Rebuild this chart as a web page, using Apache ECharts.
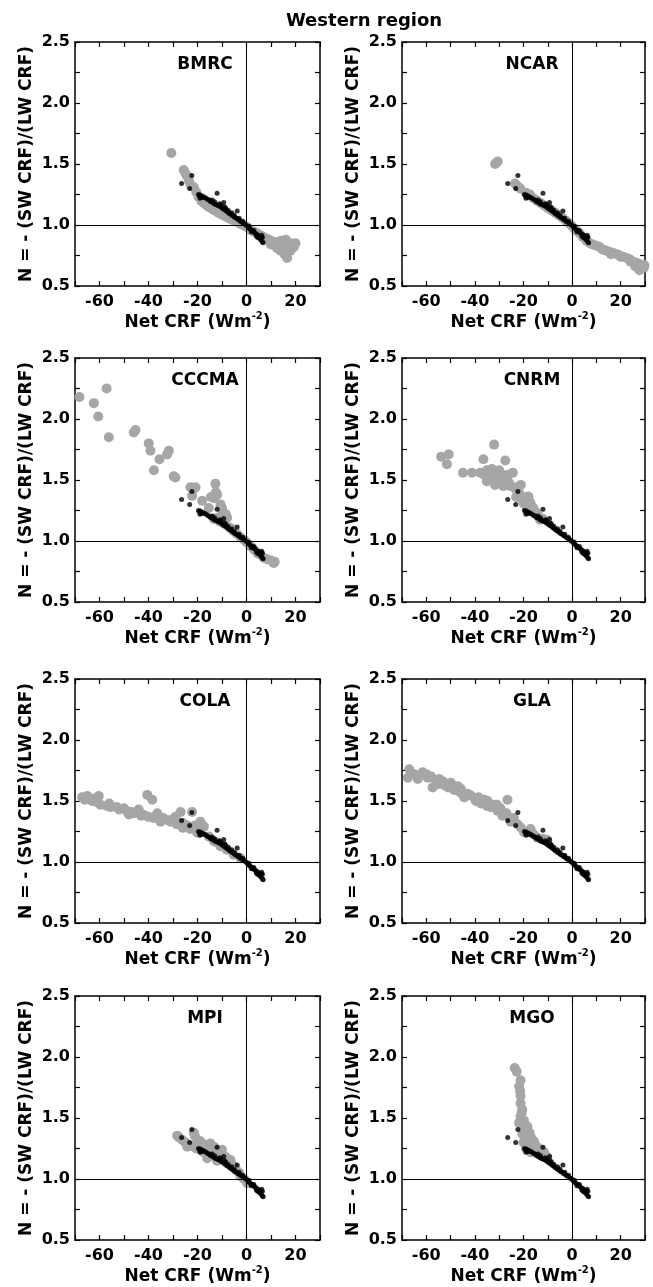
<!DOCTYPE html>
<html><head><meta charset="utf-8">
<script src="https://cdn.jsdelivr.net/npm/echarts@6/dist/echarts.min.js"></script>
<style>html,body{margin:0;padding:0;background:#fff}#c{width:653px;height:1287px}</style>
</head><body><div id="c"></div>
<script>
const chartTitle = 'Western region';
const modelNames = ['BMRC','NCAR','CCCMA','CNRM','COLA','GLA','MPI','MGO'];
const xTickLabels = [-60,-40,-20,0,20];
const yTickLabels = [0.5,1.0,1.5,2.0,2.5];
const xName = 'Net CRF (Wm';
const xNameSup = '-2';
const yName = 'N = - (SW CRF)/(LW CRF)';

// observations (black dots, same in every panel)
const obs = [
[-26.5,1.34],[-22.3,1.405],[-23.2,1.30],[-12.0,1.26],[-9.3,1.185],[-3.8,1.115],
[-19.6,1.25],[-19.2,1.24],[-18.8,1.245],[-18.5,1.23],[-18.2,1.225],[-19.0,1.22],[-17.8,1.235],
[-15.8,1.21],[-15.2,1.205],[-14.8,1.195],[-14.3,1.19],[-13.8,1.185],[-13.2,1.175],[-12.7,1.17],
[-12.2,1.165],[-11.6,1.16],[-11.0,1.155],[-10.6,1.15],[-10.0,1.14],[-9.5,1.135],[-9.0,1.125],
[-8.5,1.12],[-8.0,1.11],[-7.5,1.105],[-7.0,1.095],[-6.5,1.09],[-6.0,1.08],[-5.5,1.075],[-5.0,1.065],
[-4.5,1.06],[-4.0,1.055],[-3.5,1.045],[-3.0,1.04],[-2.5,1.03],[-2.0,1.025],[-1.5,1.02],[-1.0,1.01],
[-0.5,1.005],[0.0,0.995],[0.5,0.985],[1.0,0.975],[1.5,0.965],[2.0,0.96],[2.5,0.95],[3.0,0.94],
[3.5,0.935],[4.0,0.925],[4.5,0.92],[5.0,0.91],[5.5,0.905],[6.0,0.9],[6.5,0.9],[5.0,0.895],
[5.5,0.885],[6.0,0.875],[6.5,0.86],[6.8,0.855],[4.5,0.9],[6.2,0.915],[-16.5,1.22],[-11.0,1.175],
[-7.5,1.12],[-13.0,1.19],[-8.5,1.14],[-14.0,1.205],[-10.5,1.165],[-6.0,1.10],[-3.0,1.055],
[-17.0,1.225],[-9.0,1.15],[-5.0,1.08],[-1.5,1.03],[1.0,0.99],[3.0,0.955],[2.0,0.945],[4.0,0.91]
];

const bmrc = [
[-30.7,1.59],[-25.6,1.45],[-24.8,1.42],[-24.2,1.40],[-23.5,1.36],[-22.8,1.33],[-21.5,1.31],[-20.5,1.27],
[-19.5,1.23],[-18.5,1.20],[-17.5,1.18],[-16.5,1.165],[-15.5,1.15],[-14.5,1.14],[-13.5,1.125],[-12.5,1.115],
[-11.5,1.10],[-10.5,1.09],[-9.5,1.08],[-8.5,1.07],[-7.5,1.06],[-6.5,1.05],[-5.5,1.04],[-4.5,1.03],
[-3.5,1.02],[-2.5,1.01],[-1.5,1.0],[-0.5,0.99],[0.5,0.98],[1.5,0.96],[2.5,0.95],[3.5,0.94],[4.5,0.93],
[5.5,0.915],[6.5,0.905],[7.5,0.895],[8.5,0.885],[9.5,0.875],[10.5,0.865],[11.5,0.86],[12.5,0.85],
[12.5,0.81],[13.9,0.79],[14.0,0.83],[15.0,0.85],[16.0,0.88],[16.6,0.73],[17.0,0.82],[18.0,0.79],
[18.0,0.85],[19.3,0.82],[20.0,0.85],[15.5,0.76],[14.0,0.87],[10.0,0.84]
];
const ncar = [
[-31.7,1.50],[-31.2,1.51],[-30.6,1.52],[-23.5,1.34],[-22.5,1.32],[-21.4,1.30],[-19.0,1.265],[-17.3,1.25],
[-16.0,1.22],[-14.5,1.20],[-13.0,1.18],[-11.5,1.16],[-10.0,1.14],[-8.5,1.12],[-7.0,1.10],[-5.5,1.08],
[-4.0,1.06],[-2.5,1.035],[-1.0,1.01],[0.0,0.99],[1.0,0.97],[2.0,0.95],[3.2,0.93],[4.5,0.90],[6.0,0.87],
[7.3,0.85],[8.5,0.84],[10.0,0.83],[11.3,0.82],[12.5,0.80],[14.0,0.79],[15.4,0.78],[17.0,0.77],[18.5,0.76],
[19.5,0.75],[21.0,0.74],[22.5,0.73],[23.6,0.72],[25.0,0.70],[26.5,0.69],[27.7,0.68],[28.5,0.66],
[29.5,0.65],[27.7,0.63],[29.8,0.67],[26.0,0.66],[24.0,0.70],[20.0,0.74],[16.0,0.76]
];
const cccma = [
[-68.2,2.18],[-62.3,2.13],[-57.1,2.25],[-60.5,2.02],[-56.2,1.85],[-46.0,1.89],[-45.3,1.91],[-39.9,1.80],
[-39.2,1.74],[-35.5,1.67],[-32.4,1.71],[-31.7,1.74],[-37.8,1.58],[-29.7,1.53],[-29.0,1.52],[-22.9,1.44],
[-20.8,1.44],[-21.2,1.43],[-22.2,1.37],[-18.1,1.33],[-12.7,1.47],[-12.5,1.40],[-12.0,1.38],[-13.3,1.35],
[-14.5,1.36],[-15.4,1.27],[-10.6,1.30],[-10.0,1.27],[-9.9,1.245],[-8.5,1.22],[-7.9,1.19],[-12.0,1.19],
[-13.3,1.18],[-11.0,1.16],[-9.0,1.14],[-7.0,1.11],[-6.0,1.10],[-5.2,1.08],[-4.0,1.06],[-2.4,1.03],
[-1.0,1.01],[0.0,0.99],[1.5,0.96],[3.0,0.93],[4.5,0.90],[5.5,0.89],[7.1,0.86],[8.5,0.85],[10.0,0.84],
[11.1,0.82],[11.5,0.83]
];
const cnrm = [
[-53.9,1.69],[-50.8,1.71],[-51.5,1.63],[-44.9,1.56],[-41.2,1.56],[-32.1,1.79],[-36.5,1.67],[-27.5,1.66],
[-37.8,1.56],[-35.1,1.58],[-33.0,1.59],[-31.0,1.56],[-33.0,1.515],[-35.1,1.49],[-29.6,1.49],[-26.9,1.515],
[-24.4,1.56],[-31.7,1.46],[-28.3,1.45],[-25.5,1.45],[-21.1,1.46],[-21.4,1.38],[-18.0,1.365],[-17.3,1.32],
[-20.0,1.31],[-16.0,1.27],[-14.6,1.23],[-18.7,1.28],[-13.2,1.175],[-34.0,1.55],[-32.0,1.53],[-30.0,1.52],
[-28.0,1.50],[-26.0,1.48],[-24.0,1.44],[-23.0,1.42],[-22.0,1.40],[-19.0,1.35],[-17.0,1.30],[-15.5,1.25],
[-30.0,1.58],[-34.5,1.52],[-36.0,1.54],[-27.0,1.54],[-23.0,1.36],[-20.5,1.34],[-12.0,1.18],[-14.0,1.21]
];
const cola = [
[-67.1,1.53],[-65.0,1.54],[-66.0,1.51],[-63.0,1.50],[-60.3,1.54],[-59.6,1.47],[-61.0,1.49],[-57.0,1.46],
[-55.5,1.45],[-53.0,1.45],[-52.0,1.43],[-50.1,1.44],[-49.0,1.42],[-47.0,1.41],[-46.0,1.40],[-44.0,1.40],
[-43.0,1.38],[-40.5,1.55],[-38.5,1.51],[-41.9,1.385],[-40.0,1.37],[-38.0,1.36],[-36.4,1.40],[-35.1,1.33],
[-34.0,1.36],[-32.4,1.345],[-31.0,1.33],[-30.0,1.35],[-28.5,1.31],[-26.9,1.41],[-26.0,1.32],[-22.2,1.41],
[-24.2,1.30],[-23.0,1.27],[-21.0,1.30],[-18.8,1.33],[-17.4,1.29],[-20.1,1.24],[-19.0,1.26],[-15.4,1.21],
[-13.3,1.17],[-12.0,1.16],[-10.6,1.13],[-8.0,1.10],[-5.2,1.06],[-2.4,1.03],[-44.0,1.43],[-48.0,1.39],
[-37.0,1.38],[-29.0,1.37],[-26.0,1.28],[-56.0,1.48],[-62.0,1.52]
];
const gla = [
[-67.0,1.76],[-67.6,1.69],[-65.0,1.72],[-61.5,1.735],[-63.5,1.68],[-59.4,1.69],[-57.4,1.61],[-56.0,1.66],
[-54.6,1.68],[-52.6,1.63],[-51.0,1.61],[-49.9,1.65],[-48.5,1.59],[-47.0,1.62],[-45.8,1.60],[-44.4,1.53],
[-43.0,1.56],[-41.7,1.545],[-39.6,1.50],[-38.5,1.53],[-37.6,1.48],[-36.0,1.51],[-34.8,1.50],[-33.5,1.45],
[-32.0,1.47],[-30.7,1.42],[-29.5,1.44],[-26.6,1.51],[-28.7,1.38],[-27.0,1.40],[-25.3,1.33],[-24.0,1.36],
[-21.2,1.285],[-22.5,1.31],[-17.1,1.27],[-19.8,1.245],[-16.0,1.23],[-14.3,1.20],[-12.0,1.19],[-10.2,1.18],
[-60.0,1.72],[-55.0,1.64],[-46.0,1.57],[-40.0,1.52],[-35.0,1.46],[-31.0,1.47],[-58.0,1.70],[-53.0,1.66]
];
const mpi = [
[-28.3,1.355],[-27.5,1.34],[-26.2,1.32],[-25.0,1.30],[-24.2,1.265],[-21.5,1.38],[-21.0,1.35],[-20.0,1.32],
[-18.8,1.31],[-19.5,1.28],[-17.4,1.265],[-16.5,1.28],[-14.7,1.29],[-15.4,1.20],[-16.0,1.17],[-14.0,1.23],
[-13.0,1.21],[-12.0,1.15],[-11.5,1.19],[-10.6,1.21],[-9.5,1.17],[-8.5,1.18],[-7.9,1.13],[-6.5,1.155],
[-6.0,1.12],[-5.2,1.10],[-4.0,1.07],[-3.0,1.05],[-2.4,1.02],[-1.0,1.0],[0.3,0.965],[-17.5,1.22],
[-22.5,1.27],[-20.5,1.25],[-13.0,1.26],[-10.0,1.24]
];
const mgo = [
[-23.6,1.91],[-22.8,1.88],[-21.2,1.81],[-21.8,1.76],[-21.4,1.72],[-21.2,1.68],[-21.2,1.62],[-20.5,1.57],
[-20.8,1.54],[-21.2,1.51],[-21.8,1.46],[-19.8,1.48],[-20.0,1.44],[-18.4,1.43],[-19.0,1.40],[-20.5,1.37],
[-17.5,1.38],[-17.1,1.35],[-18.5,1.33],[-15.7,1.31],[-16.5,1.29],[-18.4,1.29],[-20.0,1.30],[-13.7,1.25],
[-14.8,1.27],[-16.4,1.24],[-11.6,1.22],[-14.3,1.21],[-10.2,1.18],[-19.0,1.25],[-17.0,1.22],[-12.5,1.20]
];
const modelData = [bmrc, ncar, cccma, cnrm, cola, gla, mpi, mgo];

const FONT = 'DejaVu Sans';
const colLeft = [75, 402], colWidth = [245, 243];
const rowTop = [42, 358, 679, 996], plotH = 244;
const black = '#000', gray = '#a6a6a6';

const grids = [], xAxes = [], yAxes = [], series = [], graphics = [];
graphics.push({type:'text', x:364, y:21, style:{text:chartTitle, font:'bold 18px "'+FONT+'"', fill:black, align:'center', verticalAlign:'middle', textAlign:'center', textVerticalAlign:'middle'}});

const lineStyle = {color:black, width:1.5};
const tickStyle = {inside:true, length:5, lineStyle:{color:black, width:1.2}};
const labelBase = {color:black, fontFamily:FONT, fontWeight:'bold', fontSize:16};

modelNames.forEach((name, i) => {
  const r = Math.floor(i/2), c = i%2;
  grids.push({left:colLeft[c], top:rowTop[r], width:colWidth[c], height:plotH, containLabel:false, outerBoundsMode:'none'});
  const xBase = {gridIndex:i, type:'value', min:-70, max:30, interval:10, splitLine:{show:false},
    axisLine:{show:true, onZero:false, lineStyle}, axisTick:tickStyle};
  xAxes.push(Object.assign({}, xBase, {position:'bottom',
    axisLabel:Object.assign({}, labelBase, {margin:8, formatter:v => xTickLabels.indexOf(v) >= 0 ? String(v) : ''}),
    name:'{a|' + xName + '}{s|' + xNameSup + '}{a|)}', nameLocation:'middle', nameGap:25,
    nameTextStyle:{rich:{
      a:{fontFamily:FONT, fontWeight:'bold', fontSize:17, color:black, lineHeight:20, verticalAlign:'bottom'},
      s:{fontFamily:FONT, fontWeight:'bold', fontSize:10, color:black, lineHeight:10, verticalAlign:'top'}
    }}}));
  xAxes.push(Object.assign({}, xBase, {position:'top', axisLabel:{show:false}}));
  const yBase = {gridIndex:i, type:'value', min:0.5, max:2.5, interval:0.25, splitLine:{show:false},
    axisLine:{show:true, onZero:false, lineStyle}, axisTick:tickStyle};
  yAxes.push(Object.assign({}, yBase, {position:'left',
    axisLabel:Object.assign({}, labelBase, {margin:5, formatter:v => yTickLabels.some(t => Math.abs(t - v) < 1e-9) ? v.toFixed(1) : ''}),
    name:yName, nameLocation:'middle', nameGap:40,
    nameTextStyle:{fontFamily:FONT, fontWeight:'bold', fontSize:17, color:black}}));
  yAxes.push(Object.assign({}, yBase, {position:'right', axisLabel:{show:false}}));

  series.push({type:'scatter', name:name, xAxisIndex:i*2, yAxisIndex:i*2, data:modelData[i],
    symbol:'circle', symbolSize:10, itemStyle:{color:gray, opacity:1}, z:2, silent:true});
  series.push({type:'scatter', name:name+' obs', xAxisIndex:i*2, yAxisIndex:i*2, data:obs,
    symbol:'circle', symbolSize:5, itemStyle:{color:black}, z:3, silent:true,
    markLine:{silent:true, symbol:'none', animation:false, label:{show:false},
      lineStyle:{color:black, width:1, type:'solid'}, data:[{xAxis:0},{yAxis:1}]}});

  graphics.push({type:'text', x:colLeft[c]+130, y:rowTop[r]+23,
    style:{text:name, font:'bold 17px "'+FONT+'"', fill:black, align:'center', verticalAlign:'middle', textAlign:'center', textVerticalAlign:'middle'}});
});

const chart = echarts.init(document.getElementById('c'), null, {renderer:'canvas'});
chart.setOption({animation:false, backgroundColor:'#fff', grid:grids, xAxis:xAxes, yAxis:yAxes, series:series, graphic:graphics});
</script></body></html>
